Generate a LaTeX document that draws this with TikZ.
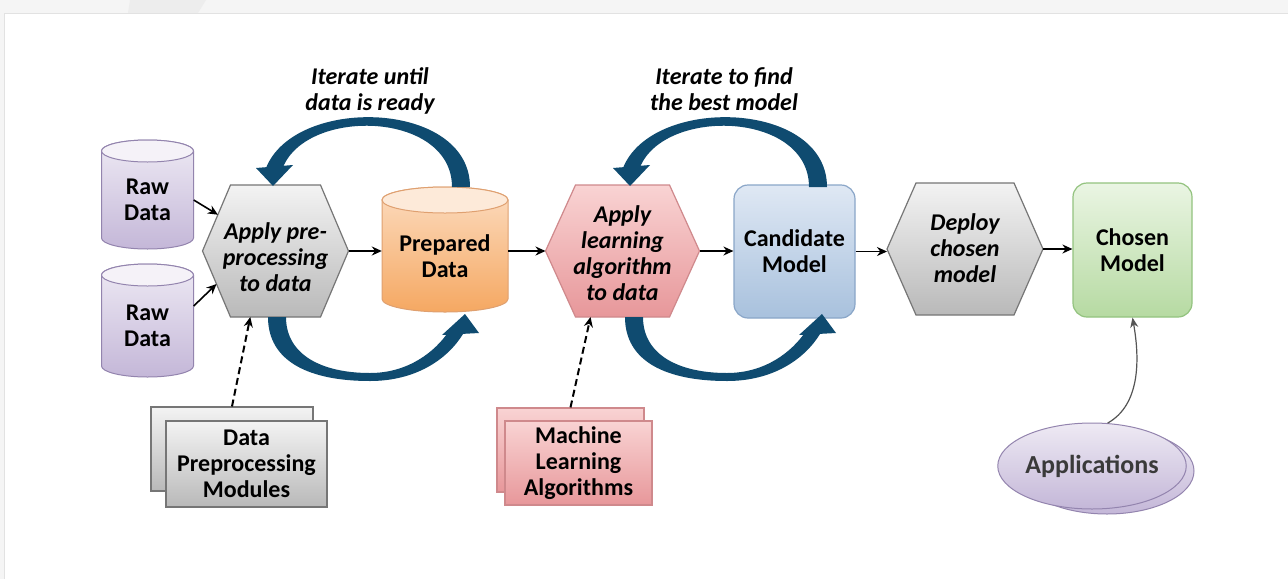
\documentclass[tikz,border=0pt]{standalone}
\usepackage{fontspec}
\setmainfont{Carlito}
\usetikzlibrary{arrows.meta,shapes.geometric,calc}
\definecolor{bgtop}{HTML}{F5F5F5}
\definecolor{bandgrey}{HTML}{EDEDED}
\definecolor{panelline}{HTML}{E2E2E2}
\definecolor{rawtop}{HTML}{EEEAF4}
\definecolor{rawbot}{HTML}{C4B7D8}
\definecolor{rawline}{HTML}{9384AE}
\definecolor{greytop}{HTML}{F3F3F3}
\definecolor{greybot}{HTML}{B9B9B9}
\definecolor{greyline}{HTML}{767676}
\definecolor{orgtop}{HTML}{FCDCC0}
\definecolor{orgbot}{HTML}{F5A862}
\definecolor{orgline}{HTML}{DFA070}
\definecolor{pinktop}{HTML}{F9D3D3}
\definecolor{pinkbot}{HTML}{E7979A}
\definecolor{pinkline}{HTML}{CF898C}
\definecolor{bluetop}{HTML}{DFE8F4}
\definecolor{bluebot}{HTML}{A8C1DD}
\definecolor{blueline}{HTML}{8AA6C8}
\definecolor{grntop}{HTML}{EAF5E3}
\definecolor{grnbot}{HTML}{B6DAA2}
\definecolor{grnline}{HTML}{93C37F}
\definecolor{loopblue}{HTML}{0F4B70}
\definecolor{apptext}{HTML}{3A3A3A}
\definecolor{appline}{HTML}{555555}
\newcommand\mainfnt{\fontsize{24}{26}\selectfont\bfseries}
\newcommand\hexfnt{\fontsize{24}{26}\selectfont\bfseries\itshape}
% name, cx, cy, halfw, halftop, halfh, style, text, text y offset
\newcommand\mkhex[9]{%
  \path[#7] (#2-#4,#3) coordinate (#1-l) -- (#2-#5,#3-#6) coordinate (#1-tl)
    -- (#2+#5,#3-#6) coordinate (#1-tr) -- (#2+#4,#3) coordinate (#1-r)
    -- (#2+#5,#3+#6) coordinate (#1-br) -- (#2-#5,#3+#6) coordinate (#1-bl) -- cycle;
  \node[txt, minimum width=2*#4, minimum height=2*#6] (#1) at (#2,#3) {};
  \node[txt, font=\hexfnt] (#1-text) at (#2,#3+#9) {#8};
}
% name, cx, ytop, ybot, rx, ry, bodystyle, topstyle, text
\newcommand\mkcyl[9]{%
  \path[#7] (#2-#5,#3) -- (#2-#5,#4) arc[start angle=180,end angle=0,x radius=#5,y radius=#6]
    -- (#2+#5,#3) arc[start angle=0,end angle=-180,x radius=#5,y radius=#6] -- cycle;
  \path[#8] (#2,#3) ellipse[x radius=#5,y radius=#6];
  \node[txt, minimum width=2*#5, minimum height=#4-#3+2*#6] (#1) at (#2,{(#3+#4)/2+#6/2}) {#9};
}
% pair of tapered iteration arrows (upper and lower), drawn for the first loop
\newcommand\looppair{%
  \fill[loopblue] (470,187) .. controls (470,100) and (295,95) .. (266,168)
    -- (282,170) .. controls (303,107) and (452,110) .. (452,187) -- cycle;
  \fill[loopblue] (256,168) -- (293,165) -- (273,186) -- cycle;
  \fill[loopblue] (268,317) .. controls (268,362) and (310,381) .. (370,381)
    .. controls (415,381) and (447,360) .. (463,334)
    -- (449,331) .. controls (435,352) and (408,373) .. (370,373)
    .. controls (322,373) and (286,355) .. (286,317) -- cycle;
  \fill[loopblue] (442,335) -- (465,314) -- (479,333) -- cycle;
}
\tikzset{
  txt/.style={align=center, inner sep=0pt, font=\mainfnt, text=black},
  conn/.style={draw=black, line width=1.6pt, -{Stealth[length=10pt,width=9pt]}},
  dconn/.style={conn, line width=2pt, dash pattern=on 7pt off 4pt},
  rawbody/.style={draw=rawline, line width=1pt, top color=rawtop, bottom color=rawbot},
  rawcap/.style={draw=rawline, line width=1pt, fill=rawtop!60!white},
  orgbody/.style={draw=orgline, line width=1pt, top color=orgtop, bottom color=orgbot},
  orgcap/.style={draw=orgline, line width=1pt, fill=orgtop!60!white},
  greyhex/.style={draw=greyline, line width=1.2pt, top color=greytop, bottom color=greybot},
  pinkhex/.style={draw=pinkline, line width=1.2pt, top color=pinktop, bottom color=pinkbot},
}
\begin{document}
\begin{tikzpicture}[x=1pt,y=-1pt]
\useasboundingbox (0,0) rectangle (1288,579);
% background
\fill[bgtop] (0,0) rectangle (1288,579);
\fill[bandgrey] (130,0) -- (206,0) -- (198,13) -- (128,13) -- cycle;
\fill[white] (4,13) rectangle (1288,579);
\draw[panelline, line width=1pt] (4,579) -- (4,13) -- (1288,13);

% cylinders
\mkcyl{raw1}{147.5}{151}{238}{46}{11}{rawbody}{rawcap}{Raw\\Data}
\mkcyl{raw2}{147.5}{275}{366}{46}{11}{rawbody}{rawcap}{Raw\\Data}
\mkcyl{prep}{445}{200}{299}{63}{13}{orgbody}{orgcap}{Prepared\\Data}

% hexagons
\mkhex{h1}{275.5}{251}{73}{45}{66}{greyhex}{Apply pre-\\processing\\to data}{6}
\mkhex{h2}{622.5}{251}{77}{47}{66}{pinkhex}{Apply\\learning\\algorithm\\to data}{2}
\mkhex{h3}{965}{249}{78}{49}{66}{greyhex}{Deploy\\chosen\\model}{-1}

% rounded boxes
\node[txt, draw=blueline, line width=1.2pt, rounded corners=14pt, top color=bluetop, bottom color=bluebot,
  minimum width=121, minimum height=133] (cand) at (794.5,251.5) {Candidate\\Model};
\node[txt, draw=grnline, line width=1.2pt, rounded corners=14pt, top color=grntop, bottom color=grnbot,
  minimum width=119, minimum height=134] (chosen) at (1132.5,250) {Chosen\\Model};

% module stacks
\node[draw=greyline, line width=1.2pt, top color=greytop, bottom color=greybot, inner sep=0pt,
  minimum width=162, minimum height=84] (dpmback) at (232,449) {};
\node[txt, draw=greyline, line width=1.2pt, top color=greytop, bottom color=greybot,
  minimum width=161, minimum height=86] (dpm) at (246.5,464) {Data\\Preprocessing\\Modules};
\node[draw=pinkline, line width=1.2pt, top color=pinktop, bottom color=pinkbot, inner sep=0pt,
  minimum width=147, minimum height=84] (mlback) at (570.5,450) {};
\node[txt, draw=pinkline, line width=1.2pt, top color=pinktop, bottom color=pinkbot,
  minimum width=147, minimum height=84] (ml) at (578.5,463) {Machine\\Learning\\Algorithms};

% applications
\path[draw=rawline, line width=1pt, top color=rawtop, bottom color=rawbot] (1107,471) ellipse[x radius=87,y radius=43];
\node[ellipse, draw=rawline, line width=1pt, top color=rawtop, bottom color=rawbot, inner sep=0pt,
  minimum width=174, minimum height=86, font=\fontsize{26}{28}\selectfont\bfseries, text=apptext] (app) at (1092,466) {Applications};

% iteration labels
\node[txt, font=\hexfnt] (lab1) at (370,91) {Iterate until\\data is ready};
\node[txt, font=\hexfnt] (lab2) at (724,89) {Iterate to find\\the best model};

% loop arrows
\looppair
\begin{scope}[xshift=357pt]
\looppair
\end{scope}

% flow connectors
\draw[conn] (raw1.east) -- ($(h1-l)!0.55!(h1-tl)$);
\draw[conn] ([yshift=20pt]raw2.east) -- ($(h1-l)!0.5!(h1-bl)$);
\draw[conn] (h1-r) -- (h1-r -| prep.west);
\draw[conn] (h2-l -| prep.east) -- (h2-l);
\draw[conn] (h2-r) -- (h2-r -| cand.west);
\draw[conn] (cand.east) -- (cand.east -| h3-l);
\draw[conn] (h3-r) -- (h3-r -| chosen.west);

% dashed inputs
\draw[dconn] (dpmback.north) -- ($(h1-bl)!0.22!(h1-br)$);
\draw[dconn] (mlback.north) -- ($(h2-bl)!0.16!(h2-br)$);

% applications link
\draw[draw=appline, line width=1.2pt, -{Stealth[length=10pt,width=8pt]}] (app.70) .. controls (1140,405) and (1140,360) .. (chosen.south);
\end{tikzpicture}
\end{document}
